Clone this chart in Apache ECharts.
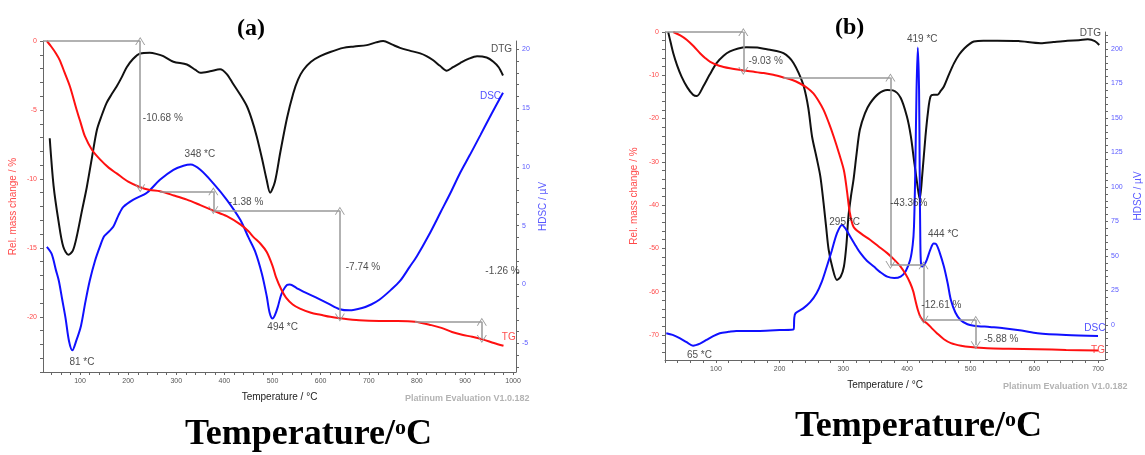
<!DOCTYPE html>
<html>
<head>
<meta charset="utf-8">
<script src="https://cdn.jsdelivr.net/npm/echarts@6.0.0/dist/echarts.min.js"></script>
<style>
  html, body { margin: 0; padding: 0; background: #fff; }
  #main { width: 1145px; height: 455px; }
</style>
</head>
<body>
<div id="main"></div>
<script>
// ---- panel (a) data: [temperature °C, value] ----
var tgA = [[31,0],[40,-0.4],[50,-0.9],[58,-1.4],[68,-2.3],[79,-3.3],[93,-5.0],[101,-5.9],[110,-6.9],[125,-7.9],[142,-8.6],[160,-9.2],[176,-9.6],[200,-10.2],[225,-10.6],[245,-10.8],[266,-10.9],[295,-11.2],[322,-11.5],[350,-11.9],[377,-12.3],[405,-12.7],[433,-13.3],[450,-13.8],[460,-14.2],[475,-14.7],[488,-15.3],[500,-16.3],[507,-17.1],[518,-18.0],[528,-18.6],[542,-19.1],[557,-19.4],[580,-19.7],[600,-19.85],[620,-20.0],[640,-20.1],[680,-20.25],[722,-20.3],[760,-20.3],[796,-20.35],[830,-20.6],[851,-20.8],[873,-21.1],[894,-21.3],[915,-21.45],[938,-21.65],[960,-21.9],[980,-22.1]];
var dscA = [[31,3.2],[41,2.6],[50,1.2],[56,0.3],[63,-1.3],[70,-2.9],[77,-4.8],[84,-5.6],[92,-4.8],[102,-3.5],[111,-1.5],[120,0.3],[131,2.0],[142,3.3],[150,4.1],[160,4.5],[169,4.9],[180,5.9],[190,6.6],[210,7.2],[239,7.8],[266,8.9],[294,9.75],[315,10.1],[330,10.2],[350,9.75],[377,8.6],[405,7.2],[433,5.5],[450,4.0],[464,2.8],[478,0.9],[488,-1.0],[494,-2.4],[500,-2.9],[505,-2.6],[511,-1.9],[517,-1.0],[522,-0.5],[530,-0.05],[536,0.0],[550,-0.3],[564,-0.6],[590,-1.1],[615,-1.6],[640,-2.1],[660,-2.2],[686,-2.0],[705,-1.7],[722,-1.3],[745,-0.5],[765,0.3],[785,1.5],[800,2.4],[825,4.2],[850,6.2],[870,7.8],[890,9.5],[910,11.0],[932,12.7],[955,14.5],[979,16.3]];
var dtgA = [[37,-7.05],[45,-10.5],[55,-13.0],[65,-14.9],[76,-15.5],[85,-15.2],[93,-14.2],[104,-12.3],[114,-10.6],[125,-8.4],[135,-6.45],[145,-5.4],[155,-4.5],[165,-3.9],[176,-3.3],[187,-2.6],[197,-1.9],[210,-1.3],[225,-0.9],[245,-0.85],[260,-0.95],[273,-1.1],[294,-1.5],[322,-1.7],[340,-2.1],[350,-2.3],[370,-2.2],[391,-2.05],[405,-2.4],[418,-3.1],[433,-3.9],[447,-4.75],[457,-5.7],[467,-6.9],[478,-8.5],[488,-10.1],[495,-11.0],[505,-10.2],[516,-8.1],[530,-5.6],[543,-3.8],[553,-2.8],[564,-2.1],[580,-1.5],[599,-1.1],[620,-0.8],[647,-0.5],[670,-0.4],[696,-0.3],[715,-0.1],[730,0.0],[748,-0.25],[765,-0.5],[785,-0.7],[807,-0.9],[820,-1.1],[834,-1.4],[848,-1.8],[862,-2.15],[875,-1.9],[890,-1.6],[907,-1.3],[925,-1.1],[945,-1.2],[959,-1.5],[970,-1.9],[979,-2.5]];

// ---- panel (b) data ----
var tgB = [[33,0],[44,-0.8],[54,-1.8],[65,-3.3],[75,-4.9],[83,-6.0],[91,-6.9],[105,-7.8],[122,-8.4],[143,-8.9],[160,-9.2],[175,-9.5],[190,-9.9],[206,-10.5],[220,-11.1],[232,-11.9],[243,-12.9],[253,-14.2],[261,-15.9],[269,-18.0],[277,-20.9],[285,-24.2],[293,-27.9],[301,-32.0],[306,-37.0],[310,-41.5],[316,-45.0],[328,-46.6],[342,-48.0],[355,-49.5],[369,-51.1],[380,-52.6],[390,-54.2],[398,-56.0],[405,-58.0],[410,-60.0],[413,-61.9],[417,-64.2],[421,-65.8],[426,-66.8],[432,-67.4],[440,-68.6],[447,-69.6],[458,-71.0],[469,-71.9],[485,-72.5],[500,-72.8],[526,-73.1],[560,-73.2],[605,-73.3],[650,-73.5],[700,-73.6]];
var dscB = [[22,-6.0],[32,-7.2],[43,-9.6],[54,-12.5],[64,-15],[75,-13.5],[85,-10.9],[95,-8.3],[106,-6.0],[120,-5.0],[132,-4.3],[169,-4.3],[200,-3.7],[222,-3.1],[223,5],[225,8.5],[237,12],[248,16.5],[258,23],[266,31],[274,42.2],[282,54],[290,66.4],[298,72.5],[304,69.5],[311,64],[320,57],[327,52],[337,46.5],[348,42.3],[358,38.3],[369,35],[380,34],[390,35],[398,39],[405,47],[409,58],[411,71],[413,110],[415,170],[417,201],[419,170],[420,110],[421,60],[422,44.7],[424,42.3],[427,43.5],[431,47],[437,55],[442,59],[446,58.5],[451,53],[458,42.3],[464,30],[469,18],[476,9],[484,3.6],[495,0.5],[505,-0.5],[530,-1.5],[552,-2.4],[580,-4.0],[605,-6],[650,-7.3],[700,-8]];
var dtgB = [[25,0],[29,-2.5],[33,-4.9],[39,-7.7],[46,-10.3],[55,-12.8],[64,-14.5],[70,-14.8],[80,-12.6],[90,-9.9],[101,-7.2],[112,-5.5],[122,-4.5],[135,-3.8],[148,-3.5],[165,-3.6],[180,-4.0],[195,-4.4],[206,-4.9],[215,-5.9],[222,-7.2],[230,-9.5],[238,-12.6],[245,-17.5],[251,-24.2],[258,-29],[264,-33.4],[269,-39.5],[273,-45],[277,-50.3],[283,-54.5],[290,-57.3],[296,-56.5],[301,-54.2],[305,-49],[308,-42.7],[312,-38],[316,-34.2],[321,-28],[326,-22.6],[334,-18.8],[342,-16.5],[355,-14.3],[369,-13.4],[378,-13.5],[390,-15.2],[400,-19.6],[406,-24],[411,-29.6],[416,-35],[420,-38.6],[424,-33],[429,-24.2],[433,-18.5],[437,-14.9],[442,-14.5],[448,-14.5],[453,-13.6],[458,-12.6],[466,-9.8],[474,-7.2],[482,-5.2],[490,-3.8],[498,-2.8],[505,-2.2],[520,-2.0],[542,-2.0],[575,-2.1],[610,-2.6],[630,-2.3],[652,-2.0],[670,-1.9],[684,-1.7],[695,-2.1],[702,-3.0]];

// step annotations: [T1, v1, T2, v2]
var hStepsA = [[23,0,225,0],[266,-10.9,377,-10.9],[377,-12.3,640,-12.3],[796,-20.35,935,-20.35]];
var vStepsA = [[225,0,225,-10.68],[377,-10.9,377,-12.28],[640,-12.3,640,-20.04],[935,-20.35,935,-21.61]];
var hStepsB = [[20,0,143,0],[206,-10.5,374,-10.5],[374,-53.9,426,-53.9],[426,-66.5,508,-66.5]];
var vStepsB = [[143,0,143,-9.03],[374,-10.5,374,-53.86],[426,-53.9,426,-66.51],[508,-66.5,508,-72.38]];

// text annotations: [T, v (left axis units), text, colour]
var notesA = [[272,-5.57,'-10.68 %','#222'],[445,-11.7,'-1.38 %','#222'],[688,-16.4,'-7.74 %','#222'],[978,-16.7,'-1.26 %','#222'],
  [349,-8.24,'348 *C','#222'],[104,-23.3,'81 *C','#222'],[521,-20.75,'494 *C','#222'],
  [976,-0.58,'DTG','#222'],[953,-3.98,'DSC','#2020ff'],[991,-21.5,'TG','#ff2020']];
var notesB = [[178,-6.7,'-9.03 %','#222'],[403,-39.5,'-43.36%','#222'],[454,-63.1,'-12.61 %','#222'],[548,-71.1,'-5.88 %','#222'],
  [424,-1.6,'419 *C','#222'],[302,-43.9,'295 *C','#222'],[457,-46.7,'444 *C','#222'],[74,-74.6,'65 *C','#222'],
  [688,-0.2,'DTG','#222'],[695,-68.4,'DSC','#2020ff'],[700,-73.5,'TG','#ff2020']];

var xLabelsA = [100,200,300,400,500,600,700,800,900,1000];
var xLabelsB = [100,200,300,400,500,600,700];
var tgLabelsA = [0,-5,-10,-15,-20];
var dscLabelsA = [-5,0,5,10,15,20];
var tgLabelsB = [0,-10,-20,-30,-40,-50,-60,-70];
var dscLabelsB = [0,25,50,75,100,125,150,175,200];

function steps(a, b, s) {
  var out = [];
  for (var v = a; v <= b + 1e-9; v += s) out.push(Math.round(v * 100) / 100);
  return out;
}

var chevron = 'path://M0,10 L5,0 L10,10 L9,10 L5,2 L1,10 Z';
var axisCol = '#666';
var font = 'Liberation Sans';
var plain = function (v) { return String(v); };

function xAxisCfg(grid, min, max, labels, minor) {
  return {
    gridIndex: grid, type: 'value', min: min, max: max,
    axisLine: { onZero: false, lineStyle: { color: axisCol } },
    axisTick: { customValues: steps(Math.ceil(min / minor) * minor, max, minor), length: 3, lineStyle: { color: axisCol } },
    axisLabel: { customValues: labels, formatter: plain, fontSize: 7, color: '#555', margin: 6, fontFamily: font },
    splitLine: { show: false },
    name: 'Temperature / °C', nameLocation: 'middle', nameGap: 20,
    nameTextStyle: { fontSize: 10, color: '#222', fontFamily: font }
  };
}

function yAxisCfg(grid, pos, min, max, labels, minor, color, name, gap) {
  return {
    gridIndex: grid, type: 'value', position: pos, min: min, max: max,
    axisLine: { show: true, onZero: false, lineStyle: { color: axisCol } },
    axisTick: { show: true, customValues: steps(Math.ceil(min / minor) * minor, max, minor), length: 3, lineStyle: { color: axisCol } },
    axisLabel: { customValues: labels, formatter: plain, fontSize: 7, color: color, margin: 6, fontFamily: font },
    splitLine: { show: false },
    name: name, nameLocation: 'middle', nameGap: gap, nameRotate: 90,
    nameTextStyle: { fontSize: 10, color: color, fontFamily: font }
  };
}

function lineSeries(data, color, xi, yi, extra) {
  var s = {
    type: 'line', data: data, xAxisIndex: xi, yAxisIndex: yi,
    showSymbol: false, smooth: 0.3, silent: true, animation: false,
    lineStyle: { color: color, width: 2 }, itemStyle: { color: color }, z: 3
  };
  if (extra) s.markLine = extra;
  return s;
}

function stepLines(hs, vs) {
  var data = [];
  hs.forEach(function (h) {
    data.push([{ coord: [h[0], h[1]], symbol: 'none' }, { coord: [h[2], h[3]], symbol: 'none' }]);
  });
  vs.forEach(function (v) {
    data.push([{ coord: [v[0], v[1]], symbol: chevron }, { coord: [v[2], v[3]], symbol: chevron }]);
  });
  return {
    silent: true, animation: false, symbolSize: [10, 8],
    lineStyle: { color: '#999', width: 1.5, type: 'solid' },
    label: { show: false }, data: data
  };
}

function noteSeries(notes, xi, yi) {
  return {
    type: 'scatter', xAxisIndex: xi, yAxisIndex: yi, symbolSize: 1, silent: true, animation: false,
    itemStyle: { color: 'rgba(0,0,0,0)' }, z: 5,
    data: notes.map(function (n) {
      return { value: [n[0], n[1]], name: n[2], label: { color: n[3] } };
    }),
    label: { show: true, position: 'inside', formatter: '{b}', fontSize: 10, fontFamily: font }
  };
}

var bigTitle = {
  text: '{t|Temperature/}{s|o}{t|C}', fontFamily: 'Liberation Serif',
  rich: {
    t: { fontSize: 36, fontWeight: 'bold', fontFamily: 'Liberation Serif', fill: '#000' },
    s: { fontSize: 22, fontWeight: 'bold', fontFamily: 'Liberation Serif', fill: '#000', verticalAlign: 'top' }
  }
};

var chart = echarts.init(document.getElementById('main'));

var option = {
  backgroundColor: '#fff',
  animation: false,
  grid: [
    { left: 43, top: 41, width: 473, height: 331 },
    { left: 665, top: 32, width: 440, height: 328 }
  ],
  xAxis: [
    xAxisCfg(0, 23, 1006, xLabelsA, 20),
    xAxisCfg(1, 20, 711, xLabelsB, 20)
  ],
  yAxis: [
    yAxisCfg(0, 'left', -24, 0, tgLabelsA, 1, '#ff4a4a', 'Rel. mass change / %', 25),
    yAxisCfg(0, 'right', -7.44, 20.7, dscLabelsA, 1, '#5a5aff', 'HDSC / µV', 22),
    { gridIndex: 0, type: 'value', min: -24, max: 0, show: false },
    yAxisCfg(1, 'left', -75.8, 0, tgLabelsB, 2, '#ff4a4a', 'Rel. mass change / %', 26),
    yAxisCfg(1, 'right', -25.4, 212.3, dscLabelsB, 5, '#5a5aff', 'HDSC / µV', 28),
    { gridIndex: 1, type: 'value', min: -75.8, max: 0, show: false }
  ],
  series: [
    lineSeries(dtgA, '#111', 0, 2),
    lineSeries(dscA, '#1010ff', 0, 1),
    lineSeries(tgA, '#ff1010', 0, 0, stepLines(hStepsA, vStepsA)),
    noteSeries(notesA, 0, 0),
    lineSeries(dtgB, '#111', 1, 5),
    lineSeries(dscB, '#1010ff', 1, 4),
    lineSeries(tgB, '#ff1010', 1, 3, stepLines(hStepsB, vStepsB)),
    noteSeries(notesB, 1, 3)
  ],
  graphic: [
    { type: 'text', left: 237, top: 17, style: { text: '(a)', fontSize: 24, fontWeight: 'bold', fontFamily: 'Liberation Serif', fill: '#000' } },
    { type: 'text', left: 835, top: 16, style: { text: '(b)', fontSize: 24, fontWeight: 'bold', fontFamily: 'Liberation Serif', fill: '#000' } },
    { type: 'text', left: 405, top: 394, style: { text: 'Platinum Evaluation V1.0.182', fontSize: 9, fontWeight: 'bold', fontFamily: font, fill: '#b3b3b3' } },
    { type: 'text', left: 1003, top: 382, style: { text: 'Platinum Evaluation V1.0.182', fontSize: 9, fontWeight: 'bold', fontFamily: font, fill: '#b3b3b3' } },
    { type: 'text', left: 185, top: 417, style: bigTitle },
    { type: 'text', left: 795, top: 409, style: bigTitle }
  ]
};

chart.setOption(option);
</script>
</body>
</html>
